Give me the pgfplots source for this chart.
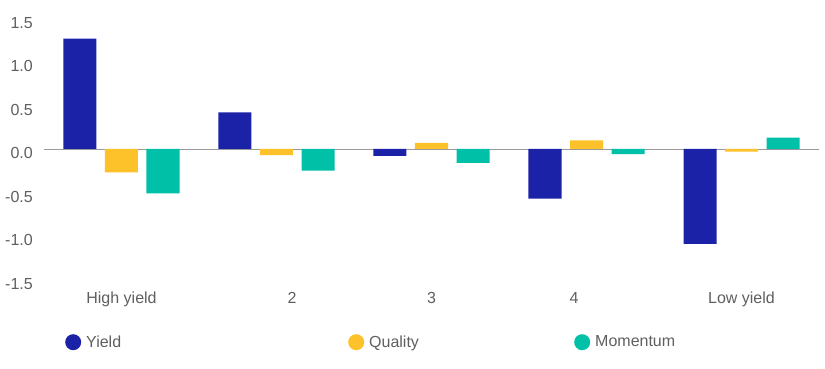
\documentclass[border=0pt]{standalone}
\usepackage{pgfplots}
\pgfplotsset{compat=1.18}
\usepackage{fontspec}
\setmainfont{Liberation Sans}
\definecolor{cyield}{RGB}{27,34,168}
\definecolor{cqual}{RGB}{253,193,41}
\definecolor{cmom}{RGB}{0,192,168}
\definecolor{ctext}{RGB}{95,95,95}
\pgfplotsset{
  legcirc/.style={legend image code/.code={\fill[#1] (8pt,6pt) circle (8pt);}}
}
\begin{document}
\begin{tikzpicture}[font=\fontsize{16pt}{19pt}\selectfont]
\path[use as bounding box] (0pt,0pt) rectangle (825pt,369pt);
\begin{axis}[
  at={(44pt,89.5pt)}, anchor=south west,
  scale only axis, width=775pt, height=261pt,
  xmin=-0.5, xmax=4.5, ymin=-1.5, ymax=1.5,
  ybar=8.5pt, bar width=33pt,
  axis line style={draw=none},
  major tick length=0pt,
  xtick={0,1.1,2,2.92,4},
  xticklabels={High yield,2,3,4,Low yield},
  ytick={-1.5,-1,-0.5,0,0.5,1,1.5},
  every tick label/.append style={font=\fontsize{16pt}{19pt}\selectfont, text=ctext},
  yticklabel style={anchor=base east, inner sep=0pt, xshift=-11pt, yshift=-9.8pt,
    /pgf/number format/.cd, fixed, fixed zerofill, precision=1, assume math mode=true},
  xticklabel style={anchor=base, inner sep=0pt, yshift=-24.5pt},
  extra y ticks={0}, extra y tick labels={},
  extra y tick style={grid=major, major grid style={draw=black!40, line width=0.8pt}},
  legend style={at={(0.0271,-0.2088)}, anchor=north west, draw=none, fill=none,
    inner sep=0pt, legend columns=3,
    nodes={inner sep=0pt, text=ctext, font=\fontsize{16pt}{19pt}\selectfont},
    /tikz/every odd column/.style={column sep=5pt},
    /tikz/every even column/.style={column sep=0pt}},
  legend cell align=left,
]
\addplot[fill=cyield, draw=none, legcirc=cyield] coordinates {(0,1.27) (1,0.42) (2,-0.08) (3,-0.57) (4,-1.09)};
\addlegendentry{\raisebox{12pt}{\makebox[262pt][l]{Yield}}}
\addplot[fill=cqual, draw=none, legcirc=cqual] coordinates {(0,-0.27) (1,-0.07) (2,0.07) (3,0.10) (4,-0.03)};
\addlegendentry{\raisebox{12pt}{\makebox[205pt][l]{Quality}}}
\addplot[fill=cmom, draw=none, legcirc=cmom] coordinates {(0,-0.51) (1,-0.25) (2,-0.16) (3,-0.06) (4,0.13)};
\addlegendentry{\raisebox{12pt}{Momentum}}
\end{axis}
\end{tikzpicture}
\end{document}
